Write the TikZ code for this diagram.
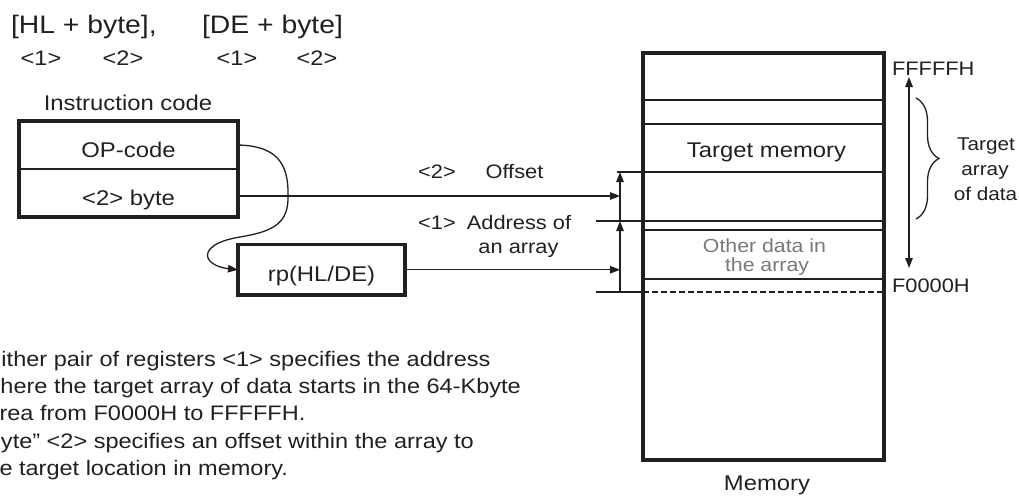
\documentclass[tikz,border=0pt]{standalone}
\usepackage{fontspec}
\setmainfont[FakeStretch=1.12]{Liberation Sans}
\usetikzlibrary{arrows.meta,decorations.pathreplacing}
\definecolor{ink}{RGB}{35,31,32}
\definecolor{greyink}{RGB}{120,120,120}
\tikzset{
  lbl/.style={inner sep=0pt, outer sep=0pt, text=ink, anchor=base},
  big/.style={lbl, font=\fontsize{25.3}{30}\selectfont},
  rowl/.style={lbl, font=\fontsize{21}{25}\selectfont},
  mainl/.style={lbl, font=\fontsize{21.3}{25}\selectfont},
  botl/.style={lbl, anchor=base west, font=\fontsize{21}{25}\selectfont},
  sidel/.style={lbl, font=\fontsize{19.5}{23}\selectfont},
  cell/.style={draw=ink, line width=2.6pt, inner sep=0pt, outer sep=0pt,
    minimum width=219pt, minimum height=48pt, text height=25pt, text depth=0pt,
    text=ink, font=\fontsize{21.3}{25}\selectfont},
  arr/.style={draw=ink, line width=1.3pt, -{Triangle[length=10pt,width=7.5pt]}},
  thinl/.style={draw=ink, line width=1.2pt},
  thickl/.style={draw=ink, line width=2.2pt},
}
\begin{document}
\begin{tikzpicture}[x=1pt,y=-1pt]
\useasboundingbox (0,0) rectangle (1019,498);

% header texts
\node[big, anchor=base west] (hl) at (11,33) {[HL + byte],};
\node[big, anchor=base west] (de) at (202,33) {[DE + byte]};
\node[rowl] (a1) at (41,65) {<1>};
\node[rowl] (a2) at (123,65) {<2>};
\node[rowl] (b1) at (237,65) {<1>};
\node[rowl] (b2) at (317,65) {<2>};
\node[mainl] (ic) at (128,110) {Instruction code};

% instruction code box
\node[cell] (op) at (128.5,145) {OP-code};
\node[cell] (byte) at (128.5,193) {<2> byte};
\draw[ink, line width=3.6pt] (op.north west) rectangle (byte.south east);

% register pair box
\node[cell, line width=3.6pt, minimum width=167pt, minimum height=50.5pt, text height=24pt] (rp) at (321.5,269.75) {rp(HL/DE)};

% memory
\node[draw=ink, line width=3.2pt, inner sep=0pt, outer sep=0pt,
  minimum width=241pt, minimum height=407pt] (mem) at (763.5,256.5) {};
\node[mainl] (memlbl) at (767,490) {Memory};

\coordinate (l100) at (643,100);
\coordinate (l124) at (643,124);
\coordinate (l172) at (617,172);
\coordinate (l221) at (596,221);
\coordinate (l230) at (643,230);
\coordinate (l279) at (643,279);
\coordinate (l292) at (596,292);
\draw[thickl] (l100) -- (l100 -| mem.east);
\draw[thinl, line width=1.5pt] (l124) -- (l124 -| mem.east);
\draw[thinl] (l172) -- (l172 -| mem.east);
\draw[thickl] (l221) -- (l221 -| mem.east);
\draw[thinl] (l230) -- (l230 -| mem.east);
\draw[thinl] (l279) -- (l279 -| mem.east);
\draw[thinl, line width=1.4pt] (l292) -- (l292 -| mem.west);
\draw[thinl, line width=1.4pt, dash pattern=on 6pt off 3pt] (l292 -| mem.west) -- (l292 -| mem.east);

\node[mainl] (tm) at (766.5,157) {Target memory};
\node[sidel, text=greyink, font=\fontsize{19}{23}\selectfont] (od1) at (764.5,252) {Other data in};
\node[sidel, text=greyink, font=\fontsize{19}{23}\selectfont] (od2) at (767,271) {the array};

% offset arrows
\coordinate (v292) at (620,292);
\coordinate (v221) at (620,221);
\coordinate (v172) at (620,172);
\draw[arr] (v292) -- (v221);
\draw[arr] (v221) -- (v172);
\coordinate (hbyte) at (620,196);
\coordinate (hrp) at (620,269.75);
\draw[arr] ([yshift=-3pt]byte.east) -- (hbyte);
\draw[arr] (rp.east) -- (hrp);

\node[sidel] (o2) at (437,178) {<2>};
\node[sidel] (off) at (514.5,178) {Offset};
\node[sidel] (o1) at (437,229) {<1>};
\node[sidel] (adr) at (519,229) {Address of};
\node[sidel] (arr2) at (518.5,253) {an array};

% curved connector
\draw[draw=ink, line width=1.3pt, -{Triangle[length=10pt,width=7.5pt]}]
  (op.east) .. controls (283,146) and (289,170) .. (288,200)
  .. controls (287,225) and (270,232) .. (240,237)
  .. controls (215,241) and (205,250) .. (208,258)
  .. controls (211,265) and (222,268) .. (rp.west);

% right side
\node[sidel, anchor=base west] (ff) at (892,75) {FFFFFH};
\node[sidel, anchor=base west] (f0) at (892,292) {F0000H};
\coordinate (dtop) at (909,77);
\coordinate (dbot) at (909,268);
\draw[draw=ink, line width=1.3pt, {Triangle[length=10pt,width=7.5pt]}-{Triangle[length=10pt,width=7.5pt]}] (dtop) -- (dbot);
\coordinate (brt) at (916,98);
\coordinate (brb) at (916,219);
\draw[draw=ink, line width=1.3pt, decorate, decoration={brace, amplitude=23pt, aspect=0.5}] (brt) -- (brb);
\node[sidel, font=\fontsize{18.5}{22}\selectfont] (ta1) at (986,150) {Target};
\node[sidel, font=\fontsize{18.5}{22}\selectfont] (ta2) at (985,175) {array};
\node[sidel, font=\fontsize{18.5}{22}\selectfont] (ta3) at (985.5,200) {of data};

% bottom text
\node[botl] (t1) at (1.5,366) {ither pair of registers <1> specifies the address};
\node[botl] (t2) at (0.5,393.4) {here the target array of data starts in the 64-Kbyte};
\node[botl] (t3) at (-0.5,420.8) {rea from F0000H to FFFFFH.};
\node[botl] (t4) at (1,448.2) {yte” <2> specifies an offset within the array to};
\node[botl] (t5) at (-0.5,475.6) {e target location in memory.};
\end{tikzpicture}
\end{document}
